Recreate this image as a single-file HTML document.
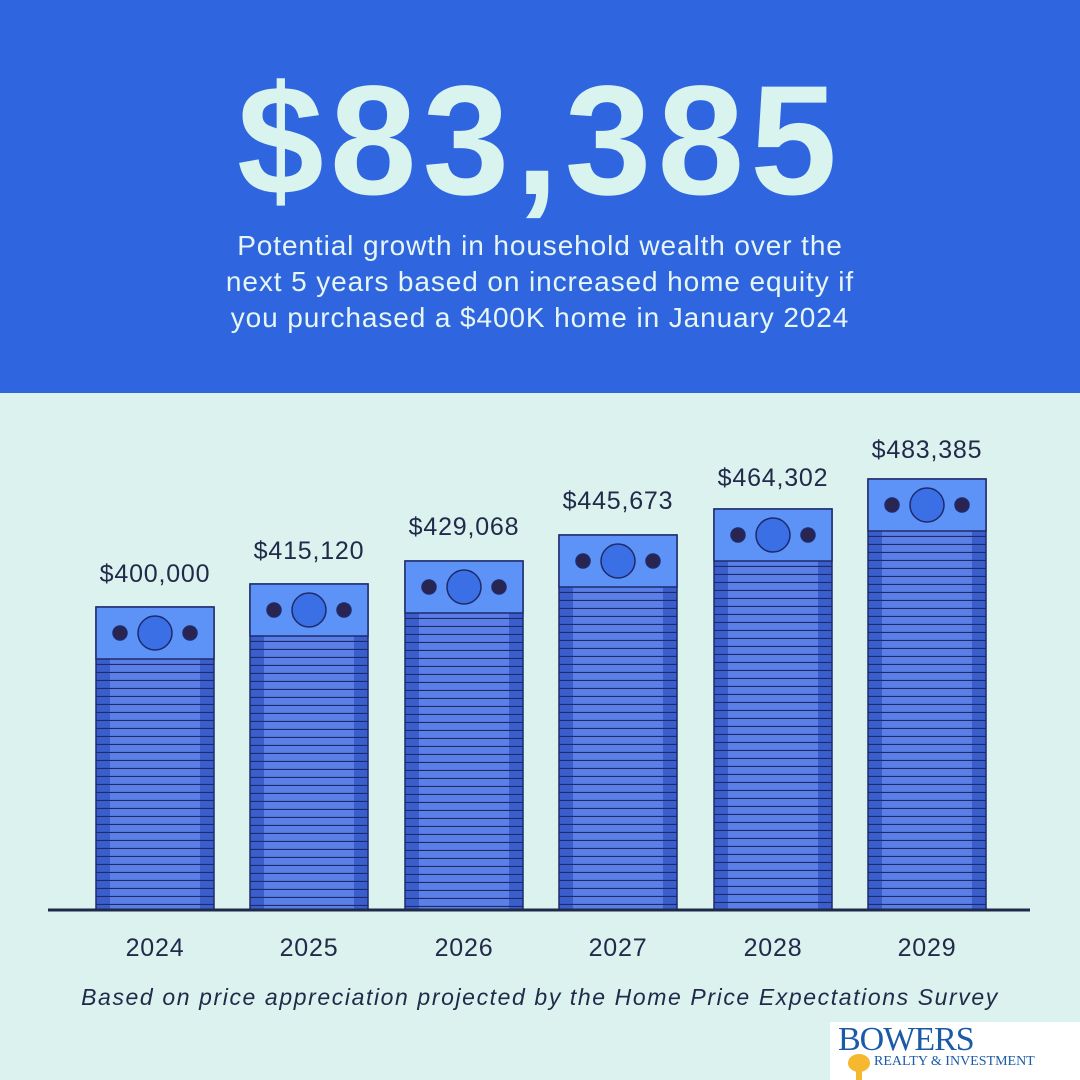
<!DOCTYPE html>
<html><head><meta charset="utf-8"><style>
html,body{margin:0;padding:0;}
body{width:1080px;height:1080px;overflow:hidden;background:#dbf2ef;font-family:"Liberation Sans",sans-serif;position:relative;}
.top{position:absolute;left:0;top:0;width:1080px;height:393px;background:#2f66e0;}
.big{position:absolute;left:0;width:1080px;top:56px;text-align:center;color:#d9f3ef;font-size:156px;font-weight:bold;letter-spacing:6px;line-height:170px;}
.sub{position:absolute;left:0;width:1080px;top:228px;text-align:center;color:#e6f6f3;font-size:28px;line-height:36px;letter-spacing:0.9px;}
.lab{position:absolute;width:200px;text-align:center;color:#222a4a;font-size:25px;letter-spacing:0.8px;}
.foot{position:absolute;left:0;width:1080px;top:984px;text-align:center;font-style:italic;color:#222a4a;font-size:23px;letter-spacing:1.6px;white-space:nowrap;}
.logo{position:absolute;left:830px;top:1022px;width:250px;height:58px;background:#fff;}
</style></head><body>
<div class="top"></div>
<div class="big">$83,385</div>
<div class="sub">Potential growth in household wealth over the<br>next 5 years based on increased home equity if<br>you purchased a $400K home in January 2024</div>
<svg width="1080" height="1080" style="position:absolute;left:0;top:0">
<defs>
<pattern id="st" patternUnits="userSpaceOnUse" width="118" height="8" y="2">
<rect width="118" height="8" fill="#5a80e8"/>
<rect width="14" height="8" fill="#3a5fcc"/>
<rect x="104" width="14" height="8" fill="#3a5fcc"/>
<line x1="0" y1="7.5" x2="118" y2="7.5" stroke="#1f2a6b" stroke-width="1.3"/>
</pattern>
</defs>
<g stroke="#1f2a6b" stroke-width="1.5">
<g transform="translate(96,607)"><rect width="118" height="303" fill="url(#st)"/><rect width="118" height="52" fill="#5d93f7"/><circle cx="59" cy="26" r="17" fill="#3a6fe6"/><circle cx="24" cy="26" r="7" fill="#2a2550"/><circle cx="94" cy="26" r="7" fill="#2a2550"/></g>
<g transform="translate(250,584)"><rect width="118" height="326" fill="url(#st)"/><rect width="118" height="52" fill="#5d93f7"/><circle cx="59" cy="26" r="17" fill="#3a6fe6"/><circle cx="24" cy="26" r="7" fill="#2a2550"/><circle cx="94" cy="26" r="7" fill="#2a2550"/></g>
<g transform="translate(405,561)"><rect width="118" height="349" fill="url(#st)"/><rect width="118" height="52" fill="#5d93f7"/><circle cx="59" cy="26" r="17" fill="#3a6fe6"/><circle cx="24" cy="26" r="7" fill="#2a2550"/><circle cx="94" cy="26" r="7" fill="#2a2550"/></g>
<g transform="translate(559,535)"><rect width="118" height="375" fill="url(#st)"/><rect width="118" height="52" fill="#5d93f7"/><circle cx="59" cy="26" r="17" fill="#3a6fe6"/><circle cx="24" cy="26" r="7" fill="#2a2550"/><circle cx="94" cy="26" r="7" fill="#2a2550"/></g>
<g transform="translate(714,509)"><rect width="118" height="401" fill="url(#st)"/><rect width="118" height="52" fill="#5d93f7"/><circle cx="59" cy="26" r="17" fill="#3a6fe6"/><circle cx="24" cy="26" r="7" fill="#2a2550"/><circle cx="94" cy="26" r="7" fill="#2a2550"/></g>
<g transform="translate(868,479)"><rect width="118" height="431" fill="url(#st)"/><rect width="118" height="52" fill="#5d93f7"/><circle cx="59" cy="26" r="17" fill="#3a6fe6"/><circle cx="24" cy="26" r="7" fill="#2a2550"/><circle cx="94" cy="26" r="7" fill="#2a2550"/></g>
</g>
<line x1="48" y1="910" x2="1030" y2="910" stroke="#1f2a4a" stroke-width="3"/>
</svg>
<div class="lab" style="left:55px;top:560px">$400,000</div>
<div class="lab" style="left:209px;top:537px">$415,120</div>
<div class="lab" style="left:364px;top:513px">$429,068</div>
<div class="lab" style="left:518px;top:487px">$445,673</div>
<div class="lab" style="left:673px;top:464px">$464,302</div>
<div class="lab" style="left:827px;top:436px">$483,385</div>
<div class="lab" style="left:55px;top:934px">2024</div>
<div class="lab" style="left:209px;top:934px">2025</div>
<div class="lab" style="left:364px;top:934px">2026</div>
<div class="lab" style="left:518px;top:934px">2027</div>
<div class="lab" style="left:673px;top:934px">2028</div>
<div class="lab" style="left:827px;top:934px">2029</div>
<div class="foot">Based on price appreciation projected by the Home Price Expectations Survey</div>
<div class="logo">
<div style="position:absolute;left:8px;top:0;font-family:'Liberation Serif',serif;font-size:34px;color:#1a5aa6;letter-spacing:-1px;line-height:36px">BOWERS</div>
<div style="position:absolute;left:44px;top:32px;font-family:'Liberation Serif',serif;font-size:14px;color:#1a5aa6;white-space:nowrap">REALTY &amp; INVESTMENT</div>
<div style="position:absolute;left:18px;top:32px;width:22px;height:18px;border-radius:50%;background:#f5b82e"></div>
<div style="position:absolute;left:26px;top:48px;width:6px;height:10px;background:#f5b82e"></div>
</div>
</body></html>
